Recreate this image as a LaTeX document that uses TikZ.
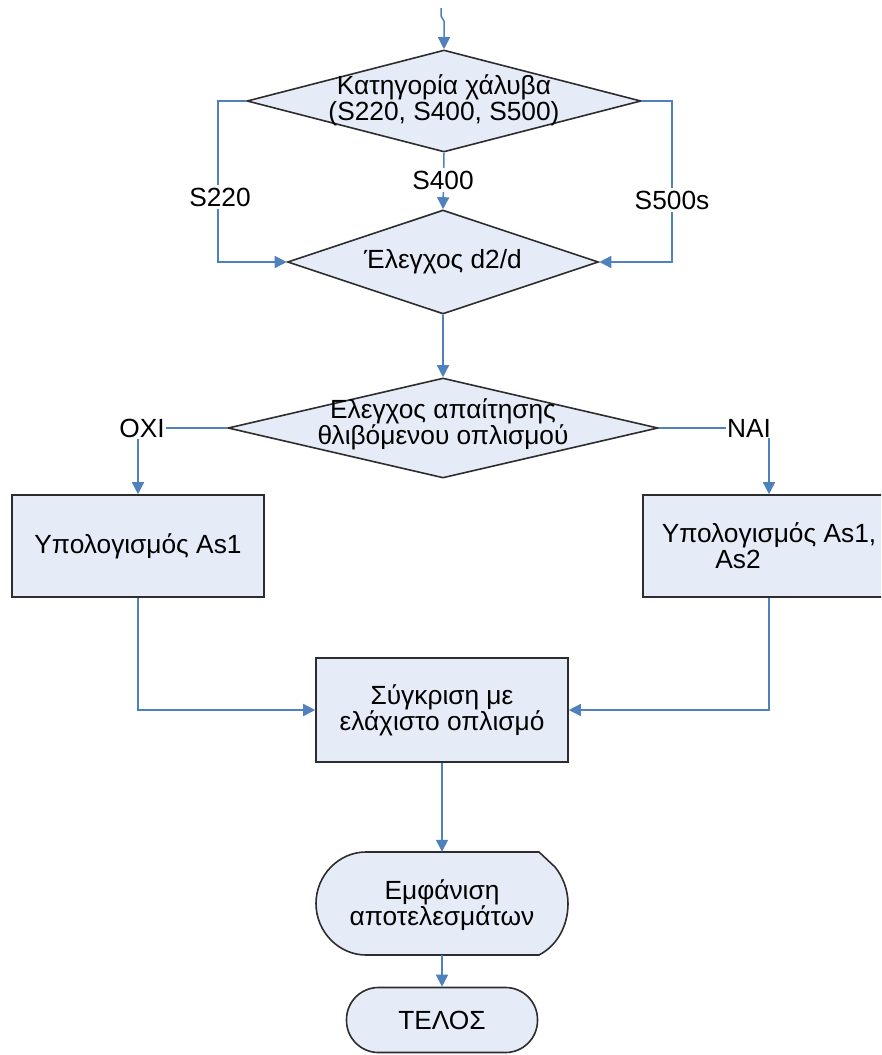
\documentclass[tikz,border=0pt]{standalone}
\usepackage{fontspec}
\setmainfont{Liberation Sans}
\usetikzlibrary{shapes.geometric,arrows.meta,calc}
\definecolor{fillc}{RGB}{230,236,247}
\definecolor{linec}{RGB}{79,129,189}
\definecolor{edgec}{RGB}{45,45,45}
\begin{document}
\begin{tikzpicture}[x=1pt,y=-1pt,
  shp/.style={draw=edgec,fill=fillc,line width=1.6pt},
  dia/.style={shp,diamond,inner sep=0pt},
  txt/.style={align=center,font=\fontsize{26.3}{26}\selectfont,inner sep=1pt},
  box/.style={shp,rectangle,txt},
  lbl/.style={txt,fill=white,inner sep=3pt},
  conn/.style={draw=linec,line width=1.5pt},
  arr/.style={conn,-{Triangle[length=12pt,width=12pt]}}]
\useasboundingbox (0,0) rectangle (881,1055);
\clip (0,0) rectangle (881,1055);
\fill[white] (0,0) rectangle (881,1055);

% shapes
\node[dia,minimum width=394pt,minimum height=102pt] (d1) at (444,101) {};
\node[txt] (t1) at (444,100) {Κατηγορία χάλυβα\\(S220, S400, S500)};
\node[dia,minimum width=311pt,minimum height=104pt] (d2) at (443,262) {};
\node[txt] (t2) at (443,262) {Έλεγχος d2/d};
\node[dia,minimum width=430pt,minimum height=100pt] (d3) at (443,428) {};
\node[txt] (t3) at (443,424) {Ελεγχος απαίτησης\\θλιβόμενου οπλισμού};

\node[box,minimum width=252pt,minimum height=102pt] (b1) at (138,546) {Υπολογισμός As1};
\node[box,minimum width=252pt,minimum height=102pt] (b2) at (769,546) {Υπολογισμός As1,\\\hspace*{-62pt}As2};
\node[box,minimum width=252pt,minimum height=104pt] (b3) at (442,710) {Σύγκριση με\\ελάχιστο οπλισμό};

\node[minimum width=252pt,minimum height=103pt,inner sep=0pt] (disp) at (442,903.5) {};
\draw[shp] (366,852) -- (539,852) -- (555,867)
  .. controls (563,877) and (568,890) .. (568,903.5)
  .. controls (568,925) and (558,945) .. (539,955)
  -- (366,955)
  .. controls (339,955) and (316,932) .. (316,903.5)
  .. controls (316,875) and (339,852) .. (366,852) -- cycle;
\node[txt] (t4) at (442,905) {Εμφάνιση\\αποτελεσμάτων};

\node[shp,txt,rounded corners=32pt,minimum width=191pt,minimum height=65pt] (end) at (442,1020) {ΤΕΛΟΣ};

\node[txt] (oxi) at (142,428) {ΟΧΙ};
\node[txt] (nai) at (749,428) {ΝΑΙ};
\coordinate (top) at (441,8);

% connectors
\draw[arr] (top) -- ++(0,8) -- ++(3,5) -- (d1.north);
\draw[arr] (d1.west) -- ++(-28,0) |- (d2.west);
\draw[arr] (d1.east) -- ++(30,0) |- (d2.east);
\draw[arr] (d1.south) -- (d2.north);
\draw[arr] (d2.south) -- (d3.north);
\draw[conn] (d3.west) -- (oxi.east);
\draw[conn] (d3.east) -- (nai.west);
\draw[arr] (oxi.south -| b1.north) -- (b1.north);
\draw[arr] (nai.south -| b2.north) -- (b2.north);
\draw[arr] (b1.south) |- (b3.west);
\draw[arr] (b2.south) |- (b3.east);
\draw[arr] (b3.south) -- (disp.north);
\draw[arr] (disp.south) -- (end.north);

% branch labels
\node[lbl] (l220) at (220,197) {S220};
\node[lbl] (l400) at (443,180) {S400};
\node[lbl] (l500) at (672,200) {S500s};
\end{tikzpicture}
\end{document}
